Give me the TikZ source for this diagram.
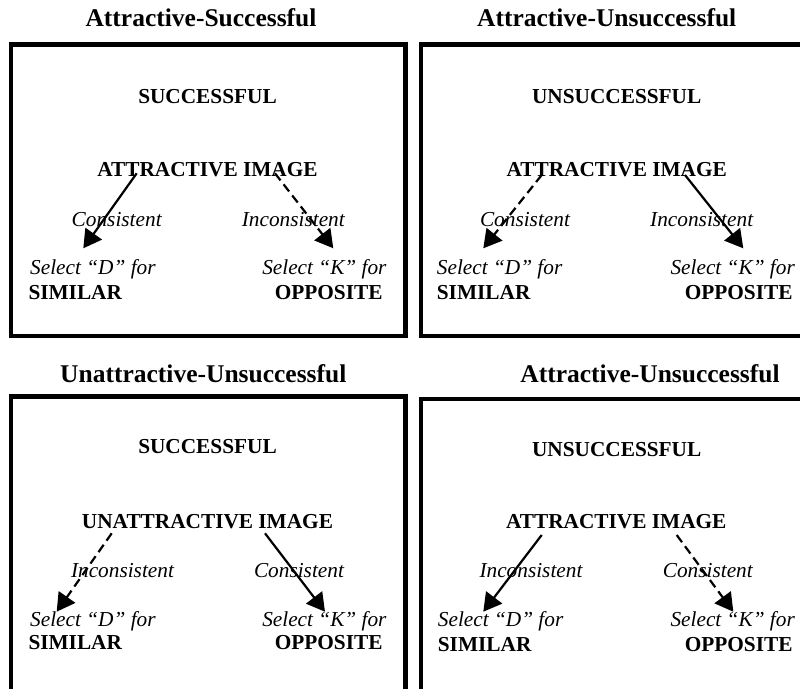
\documentclass[tikz,border=0pt]{standalone}
\usepackage{fontspec}
\setmainfont{Liberation Serif}
\usetikzlibrary{arrows.meta}

\tikzset{
  paneltitle/.style={font=\fontsize{25.5}{30}\selectfont\bfseries,inner sep=0pt,anchor=base},
  caps/.style={font=\fontsize{21.3}{25}\selectfont\bfseries,inner sep=0pt},
  cue/.style={font=\fontsize{21.3}{25}\selectfont\itshape,inner sep=0pt},
  panel/.style={line width=4.6pt},
  link/.style={line width=2.2pt,-{Triangle[length=18pt,width=20pt]}},
  weaklink/.style={link,dash pattern=on 9pt off 5pt},
}

\begin{document}
\begin{tikzpicture}[x=1pt,y=-1pt]
    \useasboundingbox (0,0) rectangle (800,688);
    \clip (0,0) rectangle (800,688);

    % titles
    \node[paneltitle] (title1) at (201,26.7) {Attractive-Successful};
    \node[paneltitle] (title2) at (606.7,26.7) {Attractive-Unsuccessful};
    \node[paneltitle] (title3) at (203.3,382.7) {Unattractive-Unsuccessful};
    \node[paneltitle] (title4) at (650,382.7) {Attractive-Unsuccessful};

    % frames
    \draw[panel] (10.8,44.5) rectangle (405.3,336);
    \draw[panel] (420.8,44.5) rectangle (812,336);
    \draw[panel] (10.8,396.3) rectangle (405.3,700);
    \draw[panel] (420.8,399) rectangle (812,700);

    % top left
    \node[caps,anchor=base] (outcome1) at (207.5,103.3) {SUCCESSFUL};
    \node[caps,anchor=base] (image1) at (207.5,176) {ATTRACTIVE IMAGE};
    \node[cue,anchor=base] (cueL1) at (116.7,226) {Consistent};
    \node[cue,anchor=base] (cueR1) at (293.3,226) {Inconsistent};
    \node[cue,anchor=base west] (selD1) at (30,274) {Select “D” for};
    \node[caps,anchor=base west] (simD1) at (28.3,299) {SIMILAR};
    \node[cue,anchor=base east] (selK1) at (386.7,274) {Select “K” for};
    \node[caps,anchor=base east] (oppK1) at (382.7,299) {OPPOSITE};
    \draw[link] ([shift={(-70.8,-2.7)}]image1.base) -- ([shift={(53.3,-25.7)}]selD1.base west);
    \draw[weaklink] ([shift={(67.5,-2.7)}]image1.base) -- ([shift={(-53.4,-25.7)}]selK1.base east);

    % top right
    \node[caps,anchor=base] (outcome2) at (616.7,103.3) {UNSUCCESSFUL};
    \node[caps,anchor=base] (image2) at (616.7,176) {ATTRACTIVE IMAGE};
    \node[cue,anchor=base] (cueL2) at (525,226) {Consistent};
    \node[cue,anchor=base] (cueR2) at (701.7,226) {Inconsistent};
    \node[cue,anchor=base west] (selD2) at (436.7,274) {Select “D” for};
    \node[caps,anchor=base west] (simD2) at (436.7,299) {SIMILAR};
    \node[cue,anchor=base east] (selK2) at (795,274) {Select “K” for};
    \node[caps,anchor=base east] (oppK2) at (792.7,299) {OPPOSITE};
    \draw[weaklink] ([shift={(-75,-1)}]image2.base) -- ([shift={(46.6,-25.7)}]selD2.base west);
    \draw[link] ([shift={(68.3,-1)}]image2.base) -- ([shift={(-51.7,-25.7)}]selK2.base east);

    % bottom left
    \node[caps,anchor=base] (outcome3) at (207.5,453.3) {SUCCESSFUL};
    \node[caps,anchor=base] (image3) at (207.5,528.3) {UNATTRACTIVE IMAGE};
    \node[cue,anchor=base] (cueL3) at (122.5,577.3) {Inconsistent};
    \node[cue,anchor=base] (cueR3) at (299,577.3) {Consistent};
    \node[cue,anchor=base west] (selD3) at (30,626.7) {Select “D” for};
    \node[caps,anchor=base west] (simD3) at (28.3,649.3) {SIMILAR};
    \node[cue,anchor=base east] (selK3) at (386.7,626.7) {Select “K” for};
    \node[caps,anchor=base east] (oppK3) at (382.7,649.3) {OPPOSITE};
    \draw[weaklink] ([shift={(-95.8,5)}]image3.base) -- ([shift={(26.7,-15)}]selD3.base west);
    \draw[link] ([shift={(57.5,5)}]image3.base) -- ([shift={(-61.7,-15)}]selK3.base east);

    % bottom right
    \node[caps,anchor=base] (outcome4) at (616.7,456) {UNSUCCESSFUL};
    \node[caps,anchor=base] (image4) at (616.3,528.3) {ATTRACTIVE IMAGE};
    \node[cue,anchor=base] (cueL4) at (531,577.3) {Inconsistent};
    \node[cue,anchor=base] (cueR4) at (707.8,577.3) {Consistent};
    \node[cue,anchor=base west] (selD4) at (437.7,626.7) {Select “D” for};
    \node[caps,anchor=base west] (simD4) at (437.7,651.7) {SIMILAR};
    \node[cue,anchor=base east] (selK4) at (795,626.7) {Select “K” for};
    \node[caps,anchor=base east] (oppK4) at (792.7,651.7) {OPPOSITE};
    \draw[link] ([shift={(-74.6,6.7)}]image4.base) -- ([shift={(45.6,-15)}]selD4.base west);
    \draw[weaklink] ([shift={(60.4,6.7)}]image4.base) -- ([shift={(-61.7,-15)}]selK4.base east);
\end{tikzpicture}
\end{document}
